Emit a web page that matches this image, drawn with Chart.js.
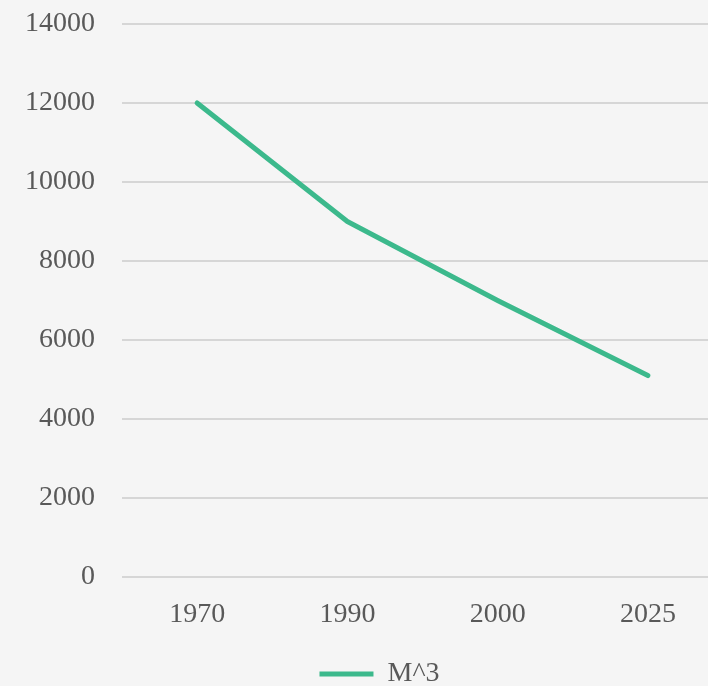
<!DOCTYPE html>
<html>
<head>
<meta charset="utf-8">
<script src="https://cdn.jsdelivr.net/npm/chart.js@4"></script>
<style>
    html, body { margin: 0; padding: 0; overflow: hidden; background: #f5f5f5; }
    #wrap { position: absolute; left: 0; top: 0; width: 760px; height: 686px; }
</style>
</head>
<body>
<div id="wrap"><canvas id="chart"></canvas></div>
<script>
// Chart data
const years = ['1970', '1990', '2000', '2025'];
const volume = [12000, 9000, 7000, 5100];
const seriesName = 'M^3';

const lineColor = '#3cb98c';
const textColor = '#595959';
const fontFamily = "'Liberation Serif', 'DejaVu Serif', serif";

// nudge the legend a little right and down after layout
const legendShift = {
    id: 'legendShift',
    afterLayout: function (chart) {
        const lg = chart.legend;
        if (!lg) return;
        lg.left += 18; lg.right += 18;
        lg.top += 12; lg.bottom += 12;
    }
};

const ctx = document.getElementById('chart').getContext('2d');

new Chart(ctx, {
    type: 'line',
    data: {
        labels: years,
        datasets: [{
            label: seriesName,
            data: volume,
            borderColor: lineColor,
            backgroundColor: lineColor,
            borderWidth: 5,
            borderCapStyle: 'round',
            borderJoinStyle: 'round',
            pointRadius: 0,
            tension: 0
        }]
    },
    plugins: [legendShift],
    options: {
        responsive: true,
        maintainAspectRatio: false,
        animation: false,
        layout: {
            // canvas is wider than the window so the plot runs off the right edge
            padding: { left: 0, right: 37, top: 0, bottom: 0 }
        },
        scales: {
            x: {
                offset: true,
                afterFit: function (scale) {
                    scale.height = 61;
                },
                grid: { display: false },
                border: { display: false },
                ticks: {
                    color: textColor,
                    padding: 13,
                    font: { family: fontFamily, size: 28 }
                }
            },
            y: {
                min: 0,
                max: 14000,
                afterFit: function (scale) {
                    scale.width = 122; // plot left edge at 122px
                    scale.paddingTop = 24;
                    scale.paddingBottom = 0;
                },
                grid: { color: '#d6d6d6', lineWidth: 2, drawTicks: false },
                border: { display: false },
                ticks: {
                    stepSize: 2000,
                    color: textColor,
                    padding: 27,
                    font: { family: fontFamily, size: 28 },
                    callback: function (value) {
                        return String(value);
                    }
                }
            }
        },
        plugins: {
            legend: {
                position: 'bottom',
                labels: {
                    color: textColor,
                    boxWidth: 54,
                    boxHeight: 5,
                    useBorderRadius: true,
                    borderRadius: 2.5,
                    padding: 10,
                    font: { family: fontFamily, size: 28 },
                    generateLabels: function (chart) {
                        return chart.data.datasets.map((ds, i) => ({
                            text: ds.label,
                            fillStyle: ds.borderColor,
                            strokeStyle: ds.borderColor,
                            lineWidth: 0,
                            fontColor: textColor,
                            datasetIndex: i
                        }));
                    }
                }
            },
            tooltip: { enabled: false }
        }
    }
});
</script>
</body>
</html>
